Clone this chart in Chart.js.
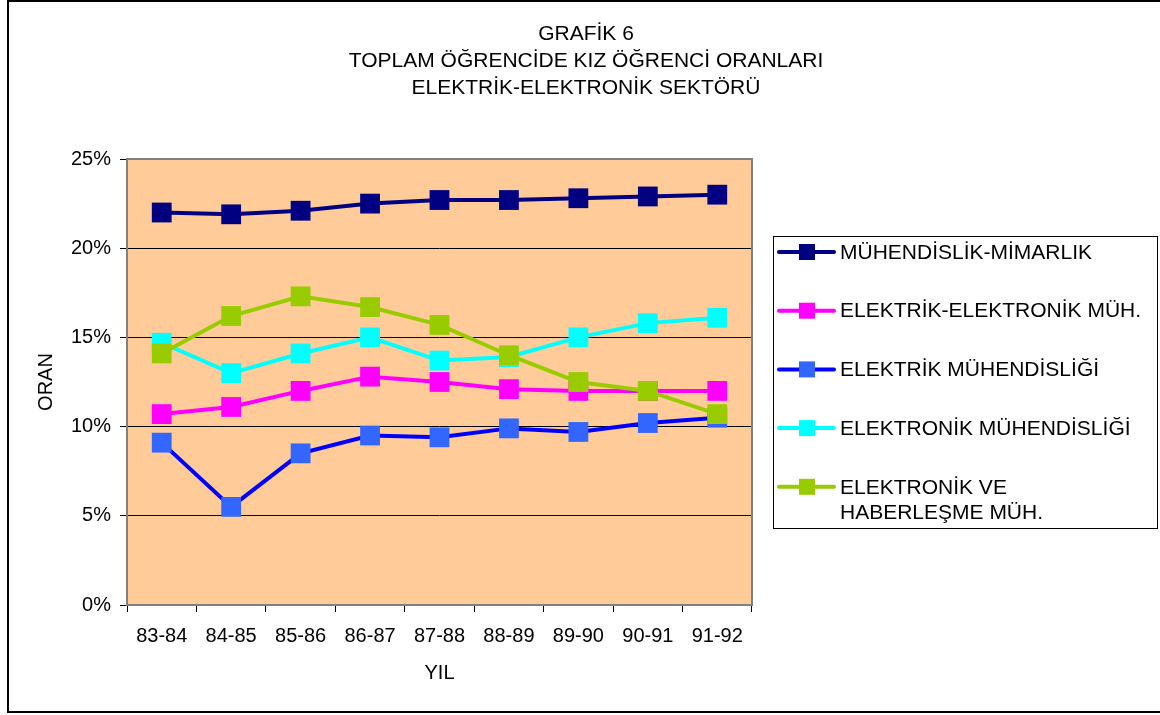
<!DOCTYPE html>
<html>
<head>
<meta charset="utf-8">
<script src="https://cdn.jsdelivr.net/npm/chart.js@4.4.0/dist/chart.umd.min.js"></script>
<style>
  html, body { margin: 0; padding: 0; background: #fff; }
  canvas { display: block; }
</style>
</head>
<body>
<canvas id="chart" width="1160" height="715"></canvas>
<script>
// Grafik 6 - kız öğrenci oranları, elektrik-elektronik sektörü

const years = ['83-84', '84-85', '85-86', '86-87', '87-88', '88-89', '89-90', '90-91', '91-92'];
const titleLines = ['GRAFİK 6', 'TOPLAM ÖĞRENCİDE KIZ ÖĞRENCİ ORANLARI', 'ELEKTRİK-ELEKTRONİK SEKTÖRÜ'];
const yTicks = [0, 5, 10, 15, 20, 25];

const seriesNames = ['MÜHENDİSLİK-MİMARLIK', 'ELEKTRİK-ELEKTRONİK MÜH.', 'ELEKTRİK MÜHENDİSLİĞİ', 'ELEKTRONİK MÜHENDİSLİĞİ', 'ELEKTRONİK VE HABERLEŞME MÜH.'];
const legendLines = [
    ['MÜHENDİSLİK-MİMARLIK'],
    ['ELEKTRİK-ELEKTRONİK MÜH.'],
    ['ELEKTRİK MÜHENDİSLİĞİ'],
    ['ELEKTRONİK MÜHENDİSLİĞİ'],
    ['ELEKTRONİK VE', 'HABERLEŞME MÜH.']
];

// values in percent
const muhMimarlik   = [22.0, 21.9, 22.1, 22.5, 22.7, 22.7, 22.8, 22.9, 23.0];
const elkElkMuh     = [10.7, 11.1, 12.0, 12.8, 12.5, 12.1, 12.0, 12.0, 12.0];
const elektrikMuh   = [9.1, 5.5, 8.5, 9.5, 9.4, 9.9, 9.7, 10.2, 10.5];
const elektronikMuh = [14.7, 13.0, 14.1, 15.0, 13.7, 13.9, 15.0, 15.8, 16.1];
const haberlesme    = [14.1, 16.2, 17.3, 16.7, 15.7, 14.0, 12.5, 12.0, 10.7];

const lineColors   = ['#000080', '#ff00ff', '#0000ff', '#00ffff', '#99cc00'];
const markerColors = ['#000080', '#ff00ff', '#3366ff', '#00ffff', '#99cc00'];
const drawOrder    = [5, 4, 3, 2, 1];

const FONT = "'Liberation Sans', Arial, sans-serif";

function makeSet(i, values) {
    return {
        label: seriesNames[i],
        data: values,
        borderColor: lineColors[i],
        backgroundColor: markerColors[i],
        borderWidth: 4,
        pointStyle: 'rect',
        pointRadius: 14,
        pointHoverRadius: 14,
        pointBorderWidth: 0,
        pointBackgroundColor: markerColors[i],
        tension: 0,
        order: drawOrder[i]
    };
}

const sheetPlugin = {
    id: 'sheet',
    beforeDraw(chart) {
        const ctx = chart.ctx, a = chart.chartArea;
        ctx.save();
        ctx.fillStyle = '#fff';
        ctx.fillRect(0, 0, chart.width, chart.height);
        ctx.fillStyle = '#ffcc99';
        ctx.fillRect(a.left, a.top, a.right - a.left, a.bottom - a.top);
        ctx.restore();
    },
    beforeDatasetsDraw(chart) {
        const ctx = chart.ctx, a = chart.chartArea;
        ctx.save();
        ctx.strokeStyle = '#808080';
        ctx.lineWidth = 2;
        ctx.strokeRect(a.left, a.top, a.right - a.left, a.bottom - a.top);
        ctx.restore();
    },
    afterDraw(chart) {
        const ctx = chart.ctx;
        ctx.save();
        // outer frame
        ctx.strokeStyle = '#000';
        ctx.lineWidth = 2;
        ctx.beginPath();
        ctx.moveTo(chart.width, 1);
        ctx.lineTo(8, 1);
        ctx.lineTo(8, 712);
        ctx.lineTo(chart.width, 712);
        ctx.stroke();

        // title
        ctx.fillStyle = '#000';
        ctx.font = '21px ' + FONT;
        ctx.textAlign = 'center';
        ctx.textBaseline = 'middle';
        titleLines.forEach(function(t, i) {
            ctx.fillText(t, 586, 34 + i * 27);
        });

        // legend
        ctx.lineWidth = 1;
        ctx.strokeStyle = '#000';
        ctx.strokeRect(773.5, 236.5, 384, 292);
        ctx.textAlign = 'left';
        chart.data.datasets.forEach(function(ds, i) {
            const y = 252 + i * 58.7;
            ctx.strokeStyle = ds.borderColor;
            ctx.lineWidth = 4;
            ctx.lineCap = 'round';
            ctx.beginPath();
            ctx.moveTo(779, y);
            ctx.lineTo(834, y);
            ctx.stroke();
            ctx.fillStyle = ds.pointBackgroundColor;
            ctx.fillRect(799, y - 8, 16, 16);
            ctx.fillStyle = '#000';
            legendLines[i].forEach(function(t, j) {
                ctx.fillText(t, 840, y + 1 + j * 25);
            });
        });
        ctx.restore();
    }
};

new Chart(document.getElementById('chart'), {
    type: 'line',
    data: {
        labels: years,
        datasets: [
            makeSet(0, muhMimarlik),
            makeSet(1, elkElkMuh),
            makeSet(2, elektrikMuh),
            makeSet(3, elektronikMuh),
            makeSet(4, haberlesme)
        ]
    },
    options: {
        responsive: false,
        animation: false,
        devicePixelRatio: 1,
        layout: { padding: { left: 0, top: 159, right: 408, bottom: 0 } },
        plugins: {
            legend: { display: false },
            title: { display: false },
            tooltip: { enabled: false }
        },
        scales: {
            x: {
                offset: true,
                grid: { offset: true, drawOnChartArea: false, tickLength: 7, tickColor: '#000', lineWidth: 1 },
                border: { display: false },
                ticks: { color: '#000', font: { family: FONT, size: 20 }, padding: 12, maxRotation: 0 },
                title: { display: true, text: 'YIL', color: '#000', font: { family: FONT, size: 20 }, padding: { top: 8, bottom: 30 } },
                afterFit(scale) { scale.height = 110; }
            },
            y: {
                min: 0,
                max: 25,
                afterBuildTicks(scale) { scale.ticks = yTicks.map(function(v) { return { value: v }; }); },
                grid: { color: '#000', tickColor: '#000', tickLength: 7, lineWidth: 1 },
                border: { display: false },
                ticks: {
                    color: '#000',
                    font: { family: FONT, size: 20 },
                    padding: 9,
                    callback: function(v) { return v + '%'; }
                },
                title: { display: true, text: 'ORAN', color: '#000', font: { family: FONT, size: 20 }, padding: { top: 34, bottom: 0 } },
                afterFit(scale) { scale.width = 127; }
            }
        }
    },
    plugins: [sheetPlugin]
});
</script>
</body>
</html>
